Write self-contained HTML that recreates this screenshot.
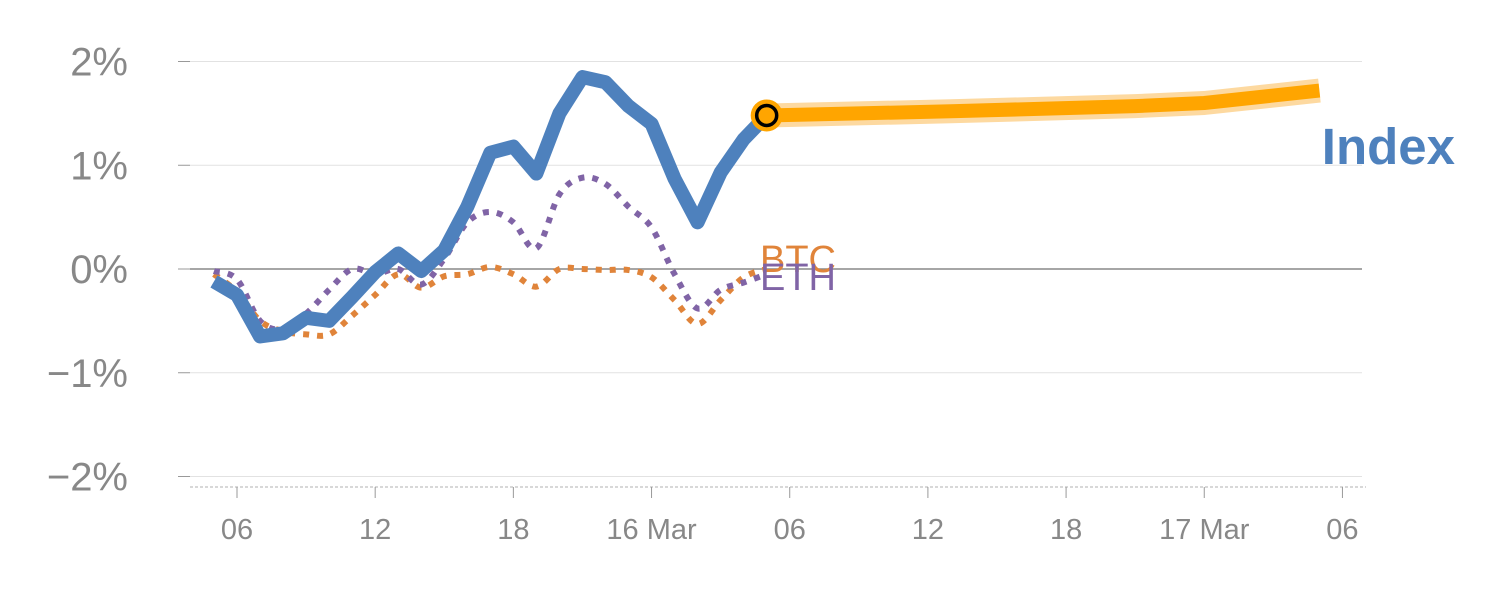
<!DOCTYPE html>
<html><head><meta charset="utf-8"><style>
html,body{margin:0;padding:0;background:#fff;}
svg{display:block;font-family:"Liberation Sans",sans-serif;}
</style></head><body>
<svg id="chart" width="1500" height="600">
<g id="grid"></g><g id="series"></g><g id="labels"></g>
</svg>
<script>
const hours=[5,6,7,8,9,10,11,12,13,14,15,16,17,18,19,20,21,22,23,24,25,26,27,28,29];
const indexVals=[-0.12,-0.25,-0.65,-0.62,-0.47,-0.5,-0.27,-0.03,0.15,-0.02,0.18,0.6,1.12,1.18,0.92,1.5,1.85,1.8,1.57,1.4,0.87,0.45,0.93,1.25,1.48];
const btcVals=[-0.05,-0.22,-0.5,-0.6,-0.63,-0.63,-0.45,-0.25,-0.05,-0.18,-0.07,-0.05,0.02,-0.05,-0.17,0.0,0.0,-0.01,-0.01,-0.08,-0.3,-0.53,-0.3,-0.08,0.0];
const ethVals=[-0.02,-0.1,-0.5,-0.58,-0.43,-0.2,0.0,-0.05,0.0,-0.15,0.1,0.45,0.55,0.45,0.2,0.72,0.88,0.82,0.6,0.4,-0.05,-0.38,-0.2,-0.13,-0.05];
const fcHours=[29,37,45,48,53];
const fcVals=[1.48,1.52,1.57,1.6,1.72];
const yTicks=[2,1,0,-1,-2];
const yTickLabels=["2%","1%","0%","\u22121%","\u22122%"];
const xTicks=[6,12,18,24,30,36,42,48,54];
const xTickLabels=["06","12","18","16 Mar","06","12","18","17 Mar","06"];
const NS="http://www.w3.org/2000/svg";
const xS=h=>237+(h-6)*23.03;
const yS=v=>269-v*103.75;
function mk(p,t,a){const e=document.createElementNS(NS,t);for(const k in a)e.setAttribute(k,a[k]);p.appendChild(e);return e;}
const grid=document.getElementById('grid'),ser=document.getElementById('series'),lab=document.getElementById('labels');
yTicks.forEach((v,i)=>{
 const l=mk(grid,'line',{x1:190,x2:1362,y1:yS(v),y2:yS(v),stroke:v===0?'#888':'#e2e2e2','stroke-width':v===0?1.5:1});
 
 
 mk(grid,'line',{x1:178,x2:190,y1:yS(v),y2:yS(v),stroke:'#999','stroke-width':1});
 const t=mk(lab,'text',{x:128,y:yS(v)+14,'text-anchor':'end','font-size':40,fill:'#888'});
 t.textContent=yTickLabels[i];
 
 
});
mk(grid,'line',{x1:190,x2:1366,y1:487,y2:487,stroke:'#ccc','stroke-width':1.5,'stroke-dasharray':'3,2'});
xTicks.forEach((h,i)=>{
 mk(grid,'line',{x1:xS(h),x2:xS(h),y1:487,y2:498,stroke:'#999','stroke-width':1});
 const t=mk(lab,'text',{x:xS(h),y:539,'text-anchor':'middle','font-size':29,fill:'#888'});
 t.textContent=xTickLabels[i];
 
 
});
function lin(xs,vs){return xs.map((h,i)=>(i?'L':'M')+xS(h)+','+yS(vs[i])).join('');}
function smooth(xs,vs){const p=xs.map((h,i)=>[xS(h),yS(vs[i])]);let d='M'+p[0];
 for(let i=0;i<p.length-1;i++){const a=p[i-1]||p[i],b=p[i],c=p[i+1],e=p[i+2]||c;
 d+='C'+(b[0]+(c[0]-a[0])/6)+','+(b[1]+(c[1]-a[1])/6)+' '+(c[0]-(e[0]-b[0])/6)+','+(c[1]-(e[1]-b[1])/6)+' '+c;}return d;}
let e=mk(ser,'path',{d:smooth(hours,btcVals),fill:'none',stroke:'#e0843a','stroke-width':6,'stroke-dasharray':'6,8'});


e=mk(ser,'path',{d:smooth(hours,ethVals),fill:'none',stroke:'#8064a6','stroke-width':6,'stroke-dasharray':'6,8'});


e=mk(ser,'path',{d:lin(hours,indexVals),fill:'none',stroke:'#4e81bd','stroke-width':14,'stroke-linejoin':'round'});


mk(ser,'path',{d:lin(fcHours,fcVals),fill:'none',stroke:'#fdd9a0','stroke-width':24,'stroke-linejoin':'round'});
e=mk(ser,'path',{d:lin(fcHours,fcVals),fill:'none',stroke:'#ffa500','stroke-width':14,'stroke-linejoin':'round'});


const lh=hours[hours.length-1],lv=indexVals[indexVals.length-1];
mk(ser,'circle',{cx:xS(lh),cy:yS(lv),r:16,fill:'#ffa500'});
e=mk(ser,'circle',{cx:xS(lh),cy:yS(lv),r:10,fill:'#ffa500',stroke:'#000','stroke-width':3.5});


e=mk(lab,'text',{x:1455,y:164,'text-anchor':'end','font-size':51,'font-weight':'bold',fill:'#4e81bd'});
e.textContent='Index';


e=mk(lab,'text',{x:760,y:272,'font-size':38,fill:'#e0843a'});
e.textContent='BTC';


e=mk(lab,'text',{x:760,y:290,'font-size':38,fill:'#8064a6'});
e.textContent='ETH';


</script>
</body></html>
